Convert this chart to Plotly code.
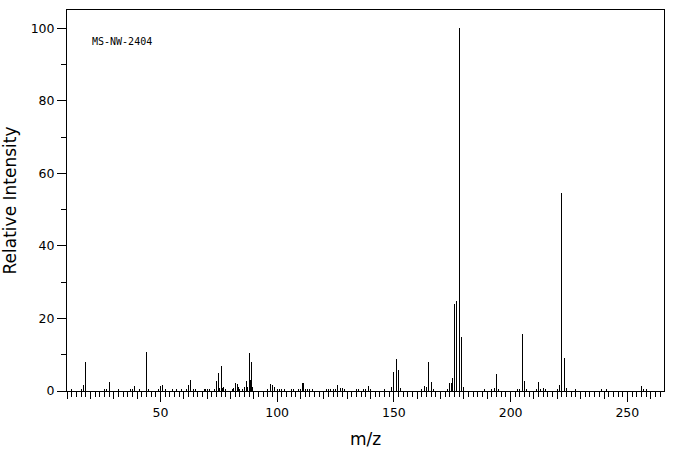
import plotly.graph_objects as go

# m/z values and relative intensities
mz = [12, 16, 17, 18, 26, 27, 28, 32, 37, 38, 39, 41, 44, 45, 49, 50, 51, 52, 55, 57, 59,
      61, 62, 63, 64, 65, 69, 69.5, 70, 71, 73, 74, 75, 75.5, 76, 76.5, 77, 78,
      81, 81.5, 82, 83, 83.5, 84, 85, 86, 87, 87.5, 88, 88.5, 89, 89.5,
      96, 97, 98, 99, 100, 101, 102, 103, 106, 107, 109, 110, 111, 111.5, 112, 113, 114, 115,
      121, 122, 123, 124, 125, 126, 127, 128, 129, 134, 135, 137, 138, 139, 140, 146,
      149, 150, 151, 152, 153, 162, 163, 164, 165, 166, 167, 173, 174, 174.5, 175, 176, 177,
      178, 179, 180, 189, 192, 193, 194, 195, 203, 204, 205, 206, 207, 211, 212, 213, 214,
      215, 220, 221, 222, 223, 224, 228, 239, 241, 256, 257, 258]
intensity = [0.3, 0.6, 1.7, 8.0, 0.3, 0.3, 2.6, 0.6, 0.3, 0.6, 1.5, 0.3, 10.8, 0.3, 0.3, 1.5, 1.7, 0.3, 0.3, 0.3, 0.3,
             0.6, 1.7, 3.1, 0.3, 0.3, 0.3, 0.55, 0.3, 0.3, 0.3, 2.8, 5.0, 0.9, 6.9, 0.9, 1.2, 0.3,
             0.3, 0.9, 2.3, 2.0, 1.2, 0.3, 0.6, 1.2, 2.8, 1.2, 10.5, 3.1, 8.0, 1.2,
             0.3, 2.0, 1.7, 1.2, 0.6, 0.6, 0.6, 0.3, 0.3, 0.3, 0.3, 0.6, 2.3, 2.2, 0.3, 0.3, 0.3, 0.6,
             0.3, 0.6, 0.6, 0.6, 0.6, 1.7, 0.9, 0.9, 0.3, 0.3, 0.3, 0.3, 0.3, 1.5, 0.3, 0.3,
             1.2, 5.3, 8.85, 5.8, 0.9, 0.3, 1.5, 1.2, 8.0, 2.6, 0.3, 0.3, 2.3, 2.3, 3.65, 23.9, 24.7,
             100.0, 15.0, 1.2, 0.3, 0.3, 0.9, 4.7, 0.6, 0.3, 0.6, 15.7, 2.8, 0.4, 0.6, 2.6, 0.6, 0.9,
             0.4, 0.4, 1.7, 54.5, 9.1, 0.9, 0.4, 0.6, 0.4, 1.5, 0.4, 0.6]

x_range = [10, 265.7]
y_range = [0, 105]
x_major = 50
x_mid = 10
x_minor = 2
y_major = 20
y_minor = 10
label_text = "MS-NW-2404"

font_main = "DejaVu Sans"

fig = go.Figure()
fig.add_trace(go.Bar(
    x=mz, y=intensity, width=0.01,
    marker=dict(color="black", line=dict(width=0)),
    showlegend=False, hoverinfo="x+y",
))
# invisible trace to carry the secondary (10-unit tick) axis
fig.add_trace(go.Scatter(x=x_range, y=[0, 0], xaxis="x2", mode="lines",
                         line=dict(width=0), showlegend=False, hoverinfo="skip"))

fig.update_layout(
    width=676, height=455,
    margin=dict(l=63, r=12, t=9, b=62),
    paper_bgcolor="white", plot_bgcolor="white",
    bargap=0,
    font=dict(family=font_main, color="black", size=13),
    xaxis=dict(
        range=x_range, showgrid=False, zeroline=False,
        showline=True, linecolor="black", linewidth=1, mirror=True,
        ticks="outside", ticklen=10, tickwidth=1, tickcolor="black",
        tick0=0, dtick=x_major,
        tickfont=dict(family=font_main, size=12.5),
        minor=dict(ticks="outside", ticklen=5, tickwidth=1, tickcolor="black",
                   tick0=0, dtick=x_minor, showgrid=False),
        title=dict(text="m/z", font=dict(family=font_main, size=17), standoff=14),
    ),
    xaxis2=dict(
        range=x_range, overlaying="x", anchor="y", side="bottom",
        showgrid=False, zeroline=False, showline=False,
        ticks="outside", ticklen=7, tickwidth=1, tickcolor="black",
        tick0=0, dtick=x_mid, showticklabels=False,
    ),
    yaxis=dict(
        range=y_range, showgrid=False, zeroline=False,
        showline=True, linecolor="black", linewidth=1, mirror=True,
        ticks="outside", ticklen=9, tickwidth=1, tickcolor="black",
        tick0=0, dtick=y_major,
        tickfont=dict(family=font_main, size=12.5),
        minor=dict(ticks="outside", ticklen=5, tickwidth=1, tickcolor="black",
                   tick0=0, dtick=y_minor, showgrid=False),
        title=dict(text="Relative Intensity", font=dict(family=font_main, size=17), standoff=10),
    ),
    annotations=[dict(
        text=label_text, xref="x", yref="y", x=20, y=96.4,
        xanchor="left", yanchor="middle", showarrow=False,
        font=dict(family="DejaVu Sans Mono", size=10, color="black"),
    )],
)

fig.write_html("out.html")
